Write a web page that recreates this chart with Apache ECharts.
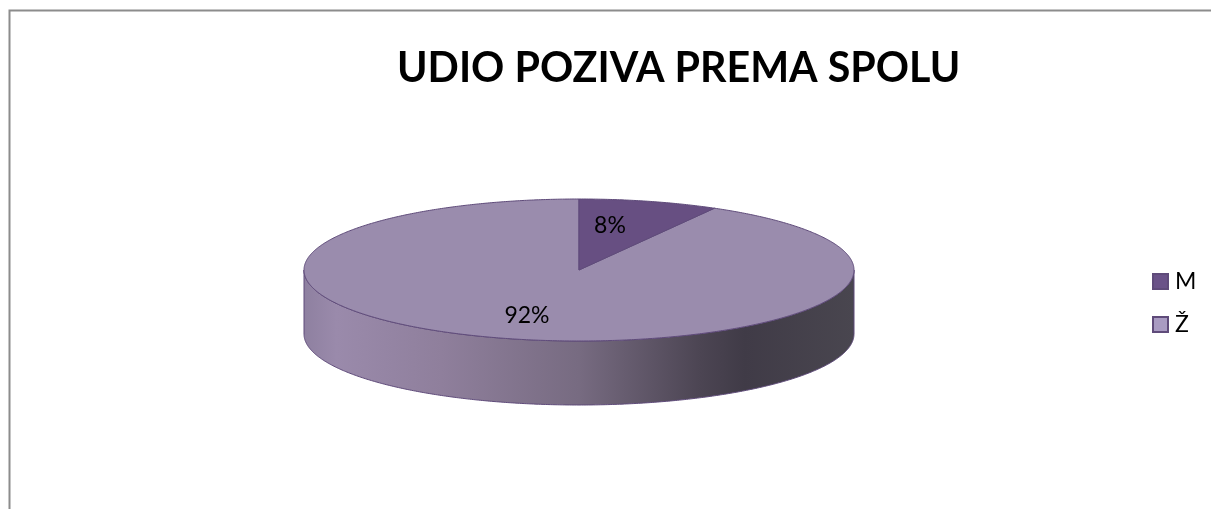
<!DOCTYPE html>
<html>
<head>
<meta charset="utf-8">
<title>UDIO POZIVA PREMA SPOLU</title>
<style>
  html, body { margin: 0; padding: 0; background: #fff; }
  #chart { width: 1211px; height: 509px; }
</style>
<script src="https://cdn.jsdelivr.net/npm/echarts@6/dist/echarts.min.js"></script>
</head>
<body>
<div id="chart"></div>
<script>
const titleText = 'UDIO POZIVA PREMA SPOLU'
const categories = ['M', 'Ž']
const shares = [8.2, 91.8]

// tilted pie geometry, px
const cx = 579
const cy = 270
const rx = 275
const ry = 71
const depth = 64
const colors = ['#674f82', '#9a8cad']
const legendFills = ['#6a5288', '#a99bc2']
const edgeColor = '#5f4b7a'
const labelPos = [[610, 226], [527, 316]]
const fontFamily = 'Lato, "Noto Sans", sans-serif'

const total = shares.reduce((a, b) => a + b, 0)
const toDeg = (v) => (v / total) * 360

// clockwise degrees from 12 o'clock -> point on the tilted ellipse
const ellipsePoint = (deg, dy = 0) => {
  const a = (deg * Math.PI) / 180
  return [cx + rx * Math.sin(a), cy + dy - ry * Math.cos(a)]
}

const arcPoints = (from, to, dy = 0) => {
  const pts = []
  for (let d = from; d <= to; d += 0.5) pts.push(ellipsePoint(d, dy))
  pts.push(ellipsePoint(to, dy))
  return pts
}

const wallGradient = new echarts.graphic.LinearGradient(0, 0, 1, 0, [
  { offset: 0, color: '#8e80a0' },
  { offset: 0.06, color: '#9a8aab' },
  { offset: 0.25, color: '#8f7f9c' },
  { offset: 0.5, color: '#776b81' },
  { offset: 0.72, color: '#4c4553' },
  { offset: 0.8, color: '#403b47' },
  { offset: 1, color: '#49464f' },
])

const renderSlice = (index) => (params, api) => {
  const startDeg = toDeg(shares.slice(0, index).reduce((a, b) => a + b, 0))
  const endDeg = startDeg + toDeg(api.value(0))
  const children = []

  // only the front half of the side wall can be seen
  const wallFrom = Math.max(startDeg, 90)
  const wallTo = Math.min(endDeg, 270)
  if (wallTo > wallFrom) {
    const points = arcPoints(wallFrom, wallTo, depth).concat(arcPoints(wallFrom, wallTo).reverse())
    children.push({
      type: 'polygon',
      shape: { points },
      style: { fill: wallGradient, stroke: edgeColor, lineWidth: 1 },
    })
  }

  children.push({
    type: 'polygon',
    shape: { points: [[cx, cy]].concat(arcPoints(startDeg, endDeg)) },
    style: { fill: colors[index], stroke: edgeColor, lineWidth: 1 },
  })
  children.push({
    type: 'text',
    z2: 10,
    style: {
      text: Math.round(api.value(0)) + '%',
      x: labelPos[index][0],
      y: labelPos[index][1],
      align: 'center',
      verticalAlign: 'middle',
      fill: '#000',
      font: '23px ' + fontFamily,
    },
  })
  return { type: 'group', children }
}

const myChart = echarts.init(document.getElementById('chart'), null, { renderer: 'canvas' })

const option = {
  animation: false,
  backgroundColor: '#fff',
  title: {
    text: titleText,
    left: 397,
    top: 48,
    padding: 0,
    textStyle: { color: '#000', fontSize: 41.2, fontWeight: 'bold', fontFamily },
  },
  legend: {
    orient: 'vertical',
    left: 1152,
    top: 270,
    padding: 0,
    itemWidth: 15,
    itemHeight: 15,
    itemGap: 20,
    selectedMode: false,
    textStyle: { color: '#000', fontSize: 23, fontFamily, padding: [0, 0, 0, 2] },
    data: categories.map((name, i) => ({
      name,
      icon: 'rect',
      itemStyle: { color: legendFills[i], borderColor: edgeColor, borderWidth: 2 },
    })),
  },
  graphic: [
    {
      type: 'polyline',
      silent: true,
      shape: { points: [[9.5, 509], [9.5, 10.5], [1211, 10.5]] },
      style: { stroke: '#8c8c8c', lineWidth: 2, fill: null },
    },
  ],
  // the big slice goes first, so the small one sits on top
  series: [1, 0].map((i) => ({
    name: categories[i],
    type: 'custom',
    coordinateSystem: 'none',
    silent: true,
    itemStyle: { color: colors[i] },
    renderItem: renderSlice(i),
    data: [[shares[i]]],
  })),
}

myChart.setOption(option)

window.addEventListener('resize', () => myChart.resize())
</script>
</body>
</html>
